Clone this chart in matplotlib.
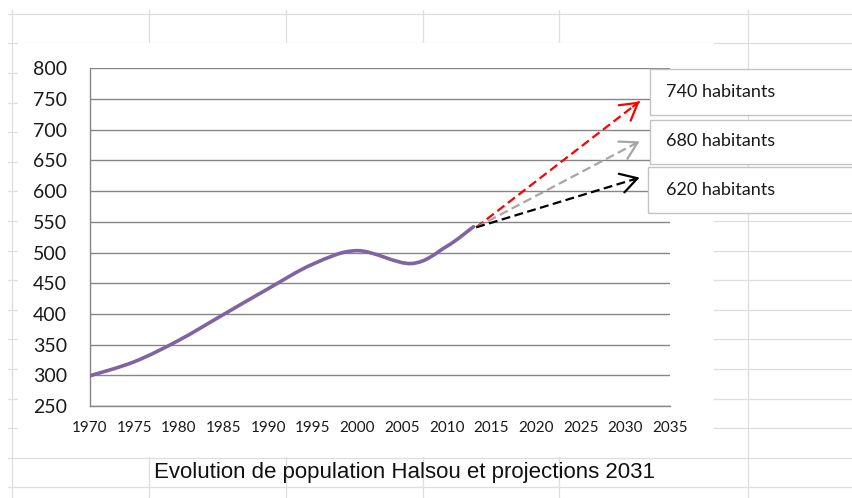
import numpy as np
import matplotlib
matplotlib.use("Agg")
import matplotlib.pyplot as plt
from matplotlib.path import Path
from matplotlib.patches import PathPatch, Rectangle

# population (smoothed line in the original)
years = [1970, 1975, 1980, 1985, 1990, 1995, 2000, 2006, 2010, 2013]
population = [299, 322, 357, 399, 441, 481, 503, 482, 510, 542]

# projections to 2031
proj_start_year = 2013.3
proj_start_value = 541
proj_end_year = 2031.6
proj_values = [746, 681, 622]
proj_labels = ["740 habitants", "680 habitants", "620 habitants"]
proj_colors = ["#ff0000", "#a6a6a6", "#000000"]

x_ticks = list(range(1970, 2040, 5))
y_ticks = list(range(250, 850, 50))
title = "Evolution de population Halsou et projections 2031"

W, H = 852, 498
tick_font = "Lato"
grid_gray = "#868686"
sheet_gray = "#dedede"


def smooth_path(x, y):
    # Excel-like smoothed line: cubic bezier through every point
    pts = np.column_stack([x, y]).astype(float)
    n = len(pts)
    verts = [pts[0]]
    codes = [Path.MOVETO]
    for i in range(n - 1):
        p0 = pts[i - 1] if i > 0 else pts[i]
        p1 = pts[i]
        p2 = pts[i + 1]
        p3 = pts[i + 2] if i + 2 < n else pts[i + 1]
        verts += [p1 + (p2 - p0) / 6, p2 - (p3 - p1) / 6, p2]
        codes += [Path.CURVE4] * 3
    return Path(verts, codes)


fig = plt.figure(figsize=(W / 100, H / 100), dpi=100)

# spreadsheet cells behind the chart object
bg = fig.add_axes([0, 0, 1, 1], zorder=0)
bg.set_xlim(0, W)
bg.set_ylim(H, 0)
bg.axis("off")
rows = [14, 43, 73, 103, 132, 162, 191, 221, 251, 280, 310, 339, 369, 399, 428, 458, 487]
cols = [12, 149, 286, 423, 559, 748]
for r in rows:
    bg.plot([8, W], [r, r], color=sheet_gray, lw=0.9, zorder=1)
for c in cols:
    bg.plot([c, c], [10, H], color=sheet_gray, lw=0.9, zorder=1)
bg.add_patch(Rectangle((18, 43), 696, 414, facecolor="white", edgecolor="none", zorder=2))
bg.text(405, 472, title, ha="center", va="center", fontsize=16,
        family="Liberation Sans", color="#111111", zorder=3)

# chart
ax = fig.add_axes([89.5 / W, (H - 406) / H, 580.5 / W, 337.7 / H], zorder=2)
ax.patch.set_visible(False)
ax.set_xlim(1970, 2035)
ax.set_ylim(250, 800)
ax.set_xticks(x_ticks)
ax.set_yticks(y_ticks)
ax.yaxis.grid(True, color=grid_gray, lw=1.0)
ax.set_axisbelow(True)
for s in ["top", "right"]:
    ax.spines[s].set_visible(False)
for s in ["left", "bottom"]:
    ax.spines[s].set_color(grid_gray)
    ax.spines[s].set_linewidth(1.0)
ax.tick_params(axis="both", length=0)
ax.tick_params(axis="y", pad=16, labelsize=14, labelcolor="#1a1a1a")
ax.tick_params(axis="x", pad=11, labelsize=11, labelcolor="#1a1a1a")
for lab in ax.get_xticklabels() + ax.get_yticklabels():
    lab.set_family(tick_font)

ax.add_patch(PathPatch(smooth_path(years, population), facecolor="none",
                       edgecolor="#8064a2", lw=2.6, capstyle="round", zorder=3))

for val, col in zip(proj_values, proj_colors):
    ax.plot([proj_start_year, proj_end_year], [proj_start_value, val], color=col,
            lw=1.6, linestyle=(0, (4, 2)), zorder=4)
    back_x = proj_end_year - 0.04 * (proj_end_year - proj_start_year)
    back_y = val - 0.04 * (val - proj_start_value)
    ax.annotate("", xy=(proj_end_year, val), xytext=(back_x, back_y),
                arrowprops=dict(arrowstyle="->,head_length=0.6,head_width=0.35",
                                color=col, lw=1.6, shrinkA=0, shrinkB=0,
                                mutation_scale=20), zorder=4)

# text boxes on top
fg = fig.add_axes([0, 0, 1, 1], zorder=3)
fg.set_xlim(0, W)
fg.set_ylim(H, 0)
fg.axis("off")
boxes = [(650, 69, 46), (650, 120, 44), (648, 167, 46)]
text_y = [92, 141, 190]
for (bx, by, bh), ty, lab in zip(boxes, text_y, proj_labels):
    fg.add_patch(Rectangle((bx, by), 220, bh, facecolor="white",
                           edgecolor="#c3c3c3", lw=1.0, clip_on=False))
    fg.text(666, ty, lab, ha="left", va="center", fontsize=13,
            family=tick_font, color="#1a1a1a")

fig.savefig("out.png", dpi=100)
